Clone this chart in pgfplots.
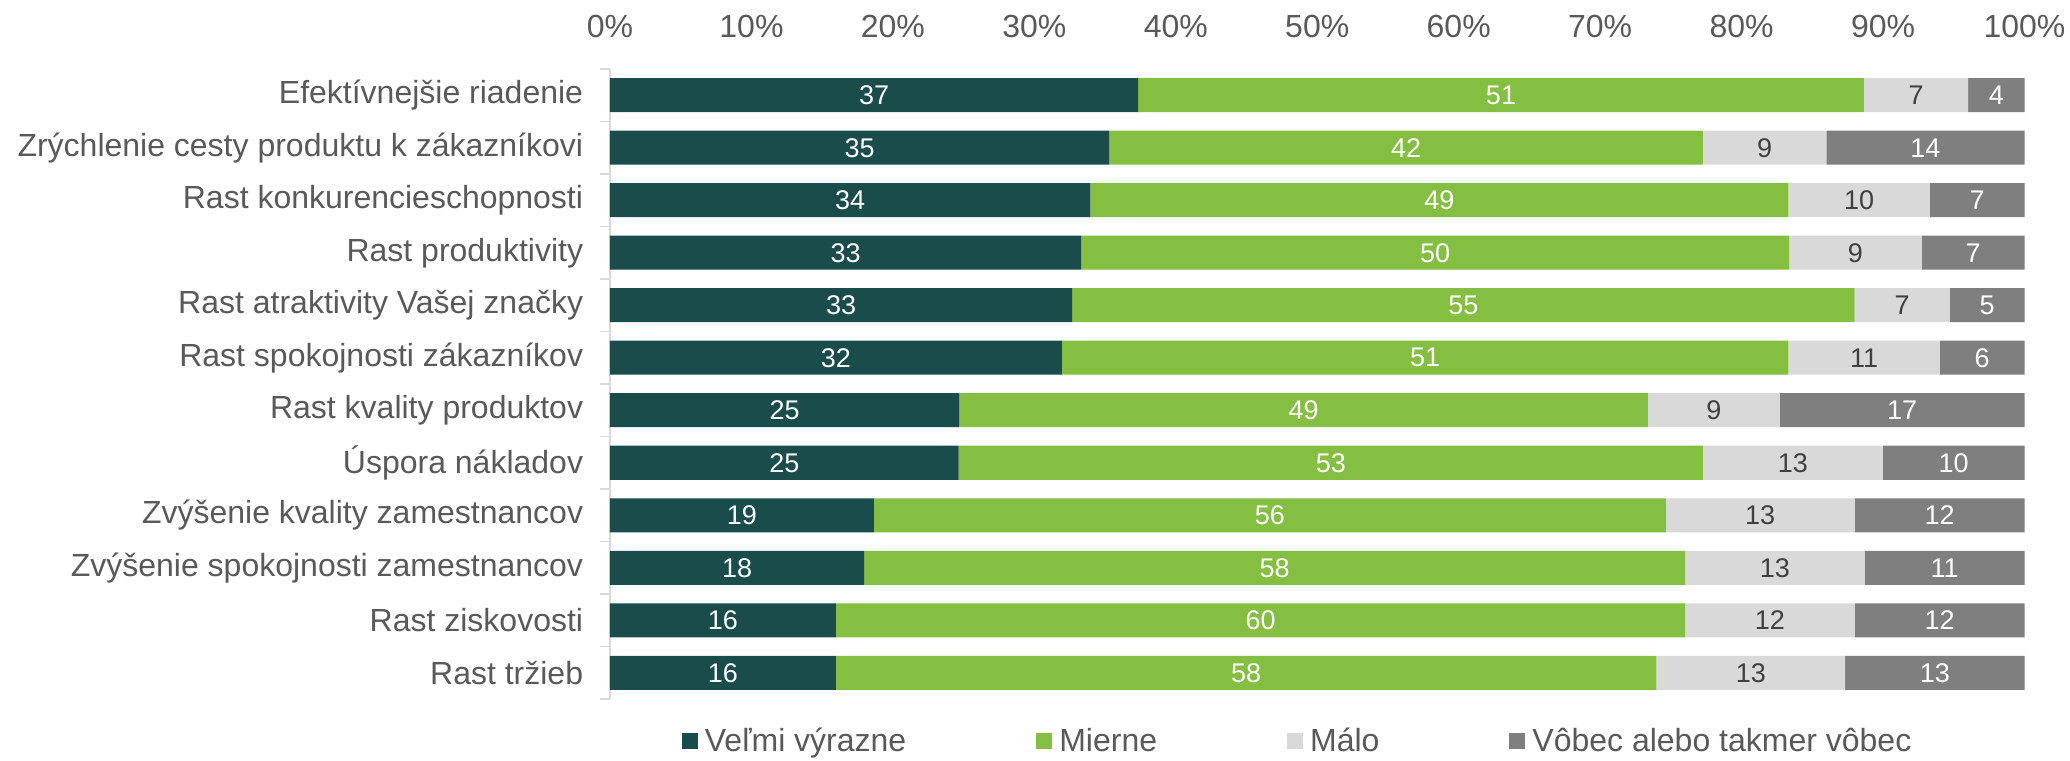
\documentclass[border=0pt]{standalone}
\usepackage{fontspec}
\setmainfont{Liberation Sans}
\usepackage{pgfplots}
\usepackage{pgfplotstable}
\pgfplotsset{compat=1.18}
\definecolor{cdark}{HTML}{1A4C4C}
\definecolor{cgreen}{HTML}{84BF41}
\definecolor{clight}{HTML}{D9D9D9}
\definecolor{cgrey}{HTML}{7F7F7F}
\definecolor{ctext}{HTML}{595959}
\definecolor{clab}{HTML}{404040}
\newcommand\bigfont{\fontsize{16}{19}\selectfont}
\newcommand\labfont{\fontsize{13.5}{16}\selectfont}

% segment widths (% of answers) and the rounded labels shown on the bars
\pgfplotstableread{
y  a     b     c     d     la lb lc ld
11 37.33 51.32 7.36  3.99  37 51 7  4
10 35.28 41.99 8.72  14.01 35 42 9  14
9  33.96 49.34 10.01 6.69  34 49 10 7
8  33.30 50.07 9.35  7.28  33 50 9  7
7  32.67 55.32 6.73  5.28  33 55 7  5
6  31.94 51.36 10.72 5.98  32 51 11 6
5  24.68 48.70 9.32  17.30 25 49 9  17
4  24.65 52.62 12.71 10.02 25 53 13 10
3  18.65 55.99 13.35 12.01 19 56 13 12
2  17.96 58.05 12.68 11.31 18 58 13 11
1  15.97 60.04 11.98 12.01 16 60 12 12
0  15.97 58.01 13.34 12.68 16 58 13 13
}\data

\pgfplotsset{
  common/.style={
    at={(0pt,0pt)}, anchor=south west,
    scale only axis, width=707.25pt, height=315pt,
    xmin=0, xmax=100, ymin=-0.5, ymax=11.5,
  },
}

\begin{document}
\begin{tikzpicture}
\path[use as bounding box] (-305pt,-30.5pt) rectangle (730pt,349.5pt);
\begin{axis}[
  common,
  xbar stacked, bar width=17pt,
  axis x line*=top, axis y line*=left,
  x axis line style={draw=none},
  y axis line style={draw=clight, line width=0.9pt},
  xtick={0,10,...,100},
  xticklabels={0\%,10\%,20\%,30\%,40\%,50\%,60\%,70\%,80\%,90\%,100\%},
  xtick style={draw=none},
  ytick={0,...,11},
  yticklabels={Rast tržieb, Rast ziskovosti, Zvýšenie spokojnosti zamestnancov,
    Zvýšenie kvality zamestnancov, Úspora nákladov, Rast kvality produktov,
    Rast spokojnosti zákazníkov, Rast atraktivity Vašej značky, Rast produktivity,
    Rast konkurencieschopnosti, Zrýchlenie cesty produktu k zákazníkovi,
    Efektívnejšie riadenie},
  minor ytick={-0.5,0.5,...,11.5},
  tick align=outside, major tick length=0pt, minor tick length=5pt,
  minor y tick style={draw=clight, line width=0.9pt},
  major y tick style={draw=none},
  ticklabel style={font=\bigfont, text=ctext},
  yticklabel style={anchor=east, inner sep=0pt, xshift=-13.25pt},
  xticklabel style={anchor=base, inner sep=0pt, yshift=15.75pt},
  legend columns=4,
  legend image code/.code={\fill[#1,draw=none] (0pt,-4pt) rectangle (8pt,4pt);},
  legend style={at={(axis description cs:0,0)}, anchor=west,
    xshift=35.75pt, yshift=-21pt, draw=none, inner sep=0pt,
    font=\bigfont, text=ctext, nodes={inner sep=0pt},
    /tikz/every odd column/.append style={column sep=3.5pt},
    /tikz/every even column/.append style={column sep=65pt}},
]
\addplot[fill=cdark, draw=none] table[x=a, y=y] {\data};
\addlegendentry{Veľmi výrazne}
\addplot[fill=cgreen, draw=none] table[x=b, y=y] {\data};
\addlegendentry{Mierne}
\addplot[fill=clight, draw=none] table[x=c, y=y] {\data};
\addlegendentry{Málo}
\addplot[fill=cgrey, draw=none] table[x=d, y=y] {\data};
\addlegendentry{Vôbec alebo takmer vôbec}
\end{axis}

% labels in the middle of each segment
\begin{axis}[
  common, hide axis,
  nodes near coords, point meta=explicit symbolic,
  every node near coord/.append style={anchor=center, font=\labfont},
]
\addplot[only marks, mark=none, every node near coord/.append style={text=white}]
  table[x expr=\thisrow{a}/2, y=y, meta=la] {\data};
\addplot[only marks, mark=none, every node near coord/.append style={text=white}]
  table[x expr=\thisrow{a}+\thisrow{b}/2, y=y, meta=lb] {\data};
\addplot[only marks, mark=none, every node near coord/.append style={text=clab}]
  table[x expr=\thisrow{a}+\thisrow{b}+\thisrow{c}/2, y=y, meta=lc] {\data};
\addplot[only marks, mark=none, every node near coord/.append style={text=white}]
  table[x expr=\thisrow{a}+\thisrow{b}+\thisrow{c}+\thisrow{d}/2, y=y, meta=ld] {\data};
\end{axis}
\end{tikzpicture}
\end{document}
